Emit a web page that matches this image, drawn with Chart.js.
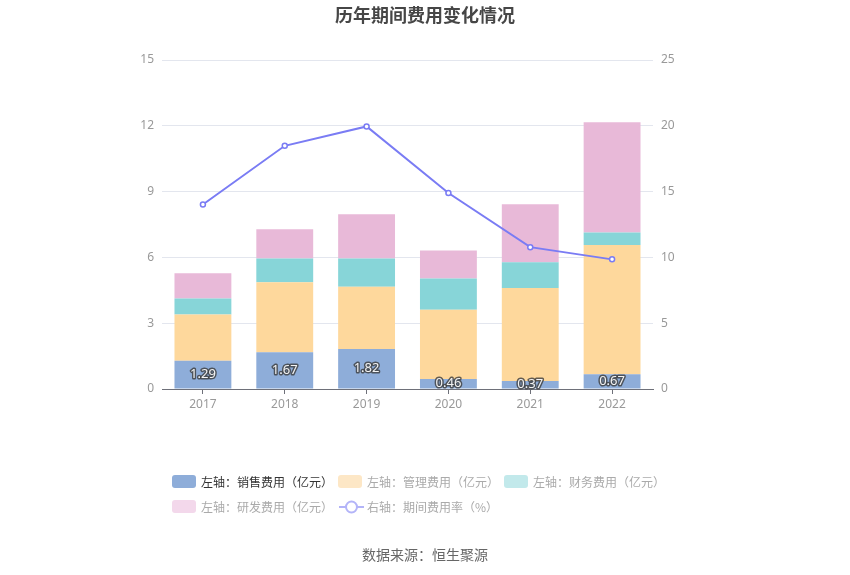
<!DOCTYPE html>
<html><head><meta charset="utf-8">
<script src="https://cdn.jsdelivr.net/npm/chart.js@4/dist/chart.umd.min.js"></script>
<style>
html,body{margin:0;padding:0;background:#fff;}
#wrap{position:relative;width:850px;height:575px;font-family:"Noto Sans CJK SC","Noto Sans",sans-serif;}
canvas{position:absolute;left:0;top:0;}
.t{position:absolute;white-space:nowrap;}
#title{left:0;width:850px;top:3px;text-align:center;font-size:18px;font-weight:bold;color:#464646;line-height:22px;}
#src{left:0;width:850px;top:544px;text-align:center;font-size:14px;color:#666;line-height:20px;}
.li{position:absolute;height:16px;line-height:16px;font-size:12px;white-space:nowrap;}
.sw{position:absolute;left:0;top:1px;width:24px;height:13px;border-radius:3px;}
.lt{position:absolute;left:29px;top:0;}
</style></head>
<body><div id="wrap">
<canvas id="c" width="850" height="575"></canvas>
<div class="t" id="title">历年期间费用变化情况</div>
<div id="legend"></div>
<div class="t" id="src">数据来源：恒生聚源</div>
</div>
<script>
const years = ["2017","2018","2019","2020","2021","2022"];
const salesExp = [1.29, 1.67, 1.82, 0.46, 0.37, 0.67];
const adminExp = [2.11, 3.20, 2.84, 3.15, 4.23, 5.89];
const financeExp = [0.73, 1.08, 1.29, 1.43, 1.18, 0.57];
const rdExp = [1.15, 1.33, 2.02, 1.27, 2.64, 5.03];
const expenseRate = [14.02, 18.48, 19.95, 14.89, 10.78, 9.85];
const seriesNames = ["左轴：销售费用（亿元）","左轴：管理费用（亿元）","左轴：财务费用（亿元）","左轴：研发费用（亿元）","右轴：期间费用率（%）"];

const colSales = "#8eadd9", colAdmin = "#fed89c", colFin = "#87d5d8", colRd = "#e8b9d8", colLine = "#7a7cf4";

// legend (HTML)
const legendItems = [
  {x:172,y:474,sw:colSales,tc:"#333",type:"box"},
  {x:338,y:474,sw:"#fde7c6",tc:"#aaa",type:"box"},
  {x:504,y:474,sw:"#c2e9eb",tc:"#aaa",type:"box"},
  {x:172,y:499,sw:"#f3d8eb",tc:"#aaa",type:"box"},
  {x:339,y:499,sw:"#b3b4f8",tc:"#aaa",type:"line"}
];
const lg = document.getElementById("legend");
legendItems.forEach((it,i)=>{
  const d=document.createElement("div");d.className="li";d.style.left=it.x+"px";d.style.top=it.y+"px";
  if(it.type==="box"){
    d.innerHTML='<div class="sw" style="background:'+it.sw+'"></div><div class="lt" style="color:'+it.tc+'">'+seriesNames[i]+'</div>';
  } else {
    d.innerHTML='<svg width="26" height="16" style="position:absolute;left:0;top:0"><line x1="0" y1="8" x2="25" y2="8" stroke="'+it.sw+'" stroke-width="2"/><circle cx="12.5" cy="8" r="5.5" fill="#fff" stroke="'+it.sw+'" stroke-width="2"/></svg><div class="lt" style="left:28px;color:'+it.tc+'">'+seriesNames[i]+'</div>';
  }
  lg.appendChild(d);
});

const barLabels = {
  id:"barLabels",
  afterDatasetsDraw(chart){
    const ctx=chart.ctx;const meta=chart.getDatasetMeta(0);
    ctx.save();
    ctx.font='13px "Noto Sans","Noto Sans CJK SC",sans-serif';
    ctx.textAlign="center";ctx.textBaseline="middle";
    meta.data.forEach((el,i)=>{
      const cy=(el.y+el.base)/2;
      const txt=salesExp[i].toFixed(2);
      ctx.lineWidth=3;ctx.strokeStyle="rgba(60,60,60,0.8)";ctx.lineJoin="round";
      ctx.strokeText(txt,el.x,cy);
      ctx.fillStyle="#f4f4f4";ctx.fillText(txt,el.x,cy);
    });
    ctx.restore();
  }
};

const tickFont={family:'"Noto Sans","Noto Sans CJK SC",sans-serif',size:12};
new Chart(document.getElementById("c"),{
  type:"bar",
  data:{labels:years,datasets:[
    {type:"bar",label:seriesNames[0],data:salesExp,backgroundColor:colSales,yAxisID:"y",stack:"s",order:1},
    {type:"bar",label:seriesNames[1],data:adminExp,backgroundColor:colAdmin,yAxisID:"y",stack:"s",order:1},
    {type:"bar",label:seriesNames[2],data:financeExp,backgroundColor:colFin,yAxisID:"y",stack:"s",order:1},
    {type:"bar",label:seriesNames[3],data:rdExp,backgroundColor:colRd,yAxisID:"y",stack:"s",order:1},
    {type:"line",label:seriesNames[4],data:expenseRate,yAxisID:"y1",borderColor:colLine,borderWidth:2,
      pointRadius:2.5,pointBackgroundColor:"#fff",pointBorderColor:colLine,pointBorderWidth:1.5,tension:0,order:0}
  ]},
  options:{
    responsive:false,animation:false,
    layout:{padding:{left:112,right:147,top:60,bottom:156}},
    plugins:{legend:{display:false},title:{display:false},tooltip:{enabled:false}},
    datasets:{bar:{categoryPercentage:1,barPercentage:0.695}},
    scales:{
      x:{stacked:true,offset:true,
        grid:{display:true,drawOnChartArea:false,offset:false,tickLength:5,color:"#6e7079"},
        border:{display:true,color:"#6e7079",width:1},
        ticks:{color:"#999",font:tickFont,padding:3},
        afterFit(s){s.height=30;}
      },
      y:{stacked:true,position:"left",min:0,max:15,
        ticks:{stepSize:3,color:"#999",font:tickFont,padding:8},
        grid:{color:"#e3e6ee",drawTicks:false},
        border:{display:false},
        afterFit(s){s.width=50;}
      },
      y1:{position:"right",min:0,max:25,
        ticks:{stepSize:5,color:"#999",font:tickFont,padding:8},
        grid:{drawOnChartArea:false,drawTicks:false},
        border:{display:false},
        afterFit(s){s.width=50;}
      }
    }
  },
  plugins:[barLabels]
});
</script>
</body></html>
